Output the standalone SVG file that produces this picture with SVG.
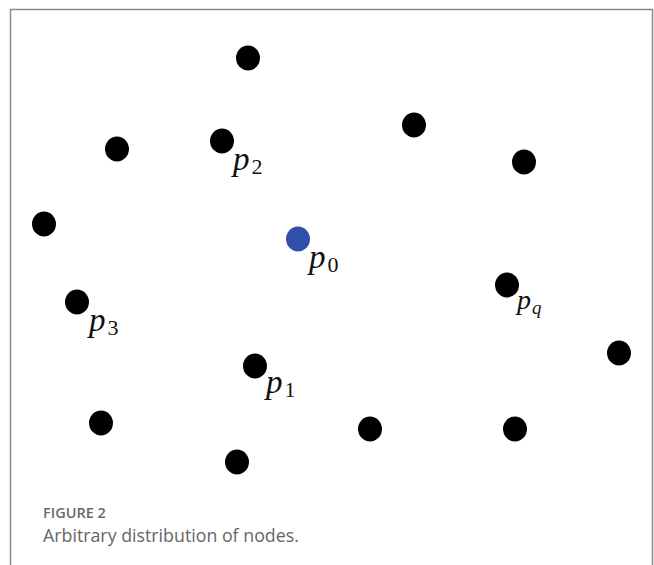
<svg xmlns="http://www.w3.org/2000/svg" width="654" height="565" viewBox="0 0 654 565">
<style>
.n{fill:#000}
.b{fill:#2f4fa8}
.lbl{font-family:"Liberation Serif",serif;font-style:italic;font-size:33px;fill:#111}
.sub{font-family:"Liberation Serif",serif;font-style:normal;font-size:22px}
.cap1{font-family:"Open Sans",sans-serif;font-size:14.5px;font-weight:600;fill:#6a6a6a}
.cap2{font-family:"Open Sans",sans-serif;font-size:17.8px;fill:#666}
</style>
<rect width="654" height="565" fill="#fff"/>
<path d="M10.5 575 V9.5 H652.5 V575" fill="none" stroke="#8a8a8a" stroke-width="1.5"/>
<g id="connectors"/>
<g id="n1"><ellipse class="n" cx="248" cy="58" rx="12" ry="12.5"/></g>
<g id="n2"><ellipse class="n" cx="117" cy="149" rx="12" ry="12.5"/></g>
<g id="p2"><ellipse class="n" cx="222" cy="141" rx="12" ry="12.5"/><text class="lbl" x="233" y="170">p<tspan class="sub" dx="2" dy="4">2</tspan></text></g>
<g id="n3"><ellipse class="n" cx="414" cy="125" rx="12" ry="12.5"/></g>
<g id="n4"><ellipse class="n" cx="524" cy="162" rx="12" ry="12.5"/></g>
<g id="n5"><ellipse class="n" cx="44" cy="224" rx="12" ry="12.5"/></g>
<g id="p0"><ellipse class="b" cx="298" cy="239" rx="12" ry="12.5"/><text class="lbl" x="309" y="268">p<tspan class="sub" dx="2" dy="4">0</tspan></text></g>
<g id="p3"><ellipse class="n" cx="77" cy="302" rx="12" ry="12.5"/><text class="lbl" x="89" y="331">p<tspan class="sub" dx="2" dy="4">3</tspan></text></g>
<g id="pq"><ellipse class="n" cx="507" cy="285" rx="12" ry="12.5"/><text class="lbl" x="517" y="309" style="font-size:28px">p<tspan class="sub" dx="1" dy="5" style="font-style:italic;font-size:19px">q</tspan></text></g>
<g id="n6"><ellipse class="n" cx="619" cy="353" rx="12" ry="12.5"/></g>
<g id="p1"><ellipse class="n" cx="255" cy="366" rx="12" ry="12.5"/><text class="lbl" x="266" y="393">p<tspan class="sub" dx="2" dy="4">1</tspan></text></g>
<g id="n7"><ellipse class="n" cx="101" cy="423" rx="12" ry="12.5"/></g>
<g id="n8"><ellipse class="n" cx="370" cy="429" rx="12" ry="12.5"/></g>
<g id="n9"><ellipse class="n" cx="515" cy="429" rx="12" ry="12.5"/></g>
<g id="n10"><ellipse class="n" cx="237" cy="462" rx="12" ry="12.5"/></g>
<text class="cap1" x="43" y="518">FIGURE 2</text>
<text class="cap2" x="43" y="542">Arbitrary distribution of nodes.</text>
</svg>
